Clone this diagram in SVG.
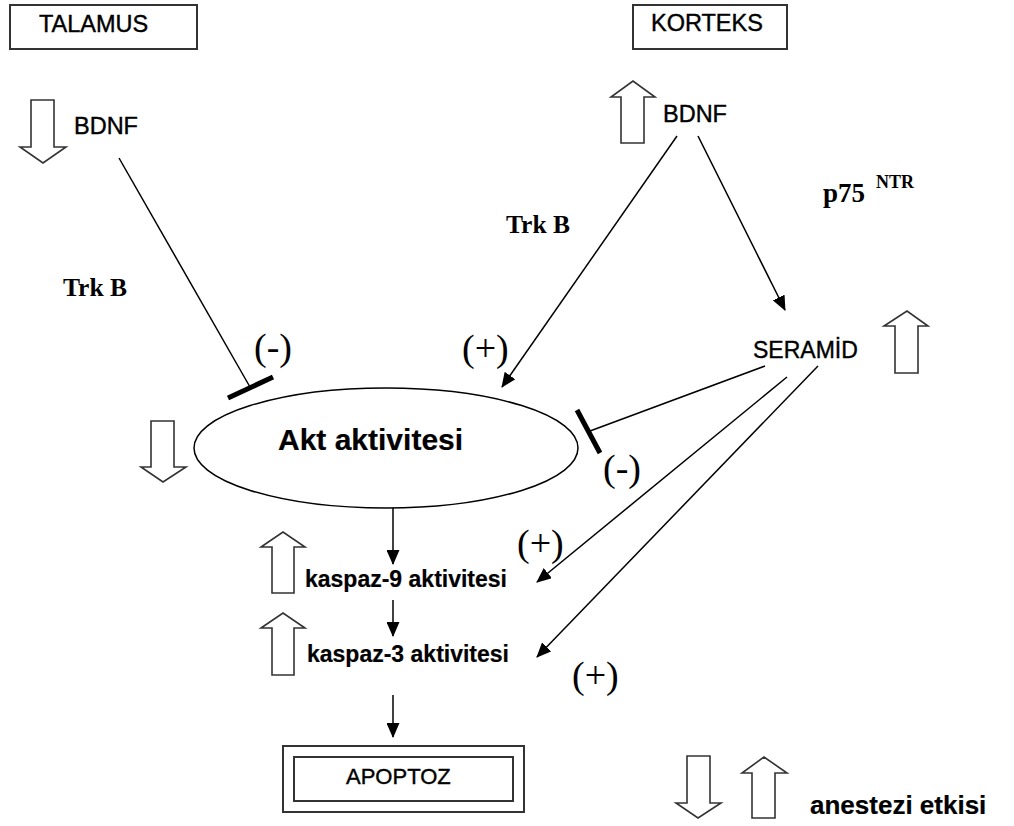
<svg xmlns="http://www.w3.org/2000/svg" width="1014" height="826" viewBox="0 0 1014 826">
<defs>
<marker id="ah" markerUnits="userSpaceOnUse" markerWidth="15" markerHeight="13" refX="14" refY="6.5" orient="auto">
<path d="M0,0 L15,6.5 L0,13 Z" fill="#000"/>
</marker>
<style>
.box{fill:#fff;stroke:#333;stroke-width:2}
.blk{fill:#fff;stroke:#333;stroke-width:1.6;stroke-linejoin:miter}
.ln{stroke:#000;stroke-width:1.5;fill:none}
.arr{stroke:#000;stroke-width:1.5;fill:none;marker-end:url(#ah)}
.bar{stroke:#000;stroke-width:5;stroke-linecap:butt}
.sans{font-family:"Liberation Sans",Arial,sans-serif;fill:#000;stroke:#000;stroke-width:0.4}
.serif{font-family:"Liberation Serif","Times New Roman",serif;fill:#000}
.b{font-weight:bold;stroke-width:0.2}
.sign{font-family:"Liberation Serif","Times New Roman",serif;font-size:38px;fill:#000}
</style>
</defs>
<rect width="1014" height="826" fill="#fff"/>

<g id="talamus">
<rect class="box" x="10" y="5" width="187" height="44"/>
<text class="sans" x="39" y="32" font-size="23.5">TALAMUS</text>
</g>
<g id="korteks">
<rect class="box" x="633" y="5" width="154" height="44"/>
<text class="sans" x="651" y="31" font-size="23.5">KORTEKS</text>
</g>

<g id="bdnf-left">
<path class="blk" d="M31,100 H54 V147 H66 L43,163 L20,147 H31 Z"/>
<text class="sans" x="74" y="134" font-size="23.5">BDNF</text>
</g>
<g id="bdnf-right">
<path class="blk" d="M621,143 V97 H611 L633,81 L655,97 H644 V143 Z"/>
<text class="sans" x="663" y="122" font-size="23.5">BDNF</text>
</g>

<g id="trkb-left"><text class="serif b" x="63" y="296" font-size="25.5">Trk B</text></g>
<g id="trkb-right"><text class="serif b" x="506" y="233" font-size="25.5">Trk B</text></g>
<g id="p75"><text class="serif b" x="823" y="202" font-size="27">p75 <tspan x="876" y="188" font-size="18">NTR</tspan></text></g>

<g id="seramid">
<text class="sans" x="753" y="358" font-size="23">SERAMİD</text>
<path class="blk" d="M895,373 V326 H884 L907,311 L928,326 H918 V373 Z"/>
</g>

<g id="akt">
<ellipse cx="386" cy="448" rx="192" ry="60" fill="#fff" stroke="#000" stroke-width="1.5"/>
<text class="sans b" x="278" y="450" font-size="30">Akt aktivitesi</text>
<path class="blk" d="M151,421 H174 V467 H186 L163,482 L141,467 H151 Z"/>
</g>

<g id="kaspaz9">
<path class="blk" d="M272,593 V547 H261 L283,532 L305,547 H294 V593 Z"/>
<text class="sans b" x="305" y="587" font-size="23">kaspaz-9 aktivitesi</text>
</g>
<g id="kaspaz3">
<path class="blk" d="M272,675 V628 H261 L283,613 L305,628 H294 V675 Z"/>
<text class="sans b" x="307" y="662" font-size="23">kaspaz-3 aktivitesi</text>
</g>

<g id="apoptoz">
<rect class="box" x="283" y="746" width="241" height="66"/>
<rect class="box" x="294" y="757" width="219" height="44"/>
<text class="sans" x="346" y="784" font-size="22">APOPTOZ</text>
</g>

<g id="legend">
<path class="blk" d="M687,756 H710 V803 H721 L698,818 L676,803 H687 Z"/>
<path class="blk" d="M752,818 V773 H742 L764,757 L787,773 H775 V818 Z"/>
<text class="sans b" x="810" y="814" font-size="26">anestezi etkisi</text>
</g>

<g id="connectors">
<line class="ln" x1="119" y1="158" x2="250" y2="387"/>
<line class="bar" x1="228" y1="398" x2="273" y2="377"/>
<line class="arr" x1="677" y1="136" x2="502" y2="387"/>
<line class="arr" x1="698" y1="136" x2="785" y2="310"/>
<line class="ln" x1="765" y1="366" x2="590" y2="431"/>
<line class="bar" x1="577" y1="410" x2="600" y2="453"/>
<line class="arr" x1="787" y1="377" x2="537" y2="582"/>
<line class="arr" x1="818" y1="366" x2="537" y2="657"/>
<line class="arr" x1="393" y1="508" x2="393" y2="564"/>
<line class="arr" x1="393" y1="600" x2="393" y2="636"/>
<line class="arr" x1="393" y1="695" x2="393" y2="737"/>
<text class="sign" x="254" y="360">(-)</text>
<text class="sign" x="462" y="361">(+)</text>
<text class="sign" x="603" y="481">(-)</text>
<text class="sign" x="517" y="556">(+)</text>
<text class="sign" x="572" y="688">(+)</text>
</g>
</svg>
